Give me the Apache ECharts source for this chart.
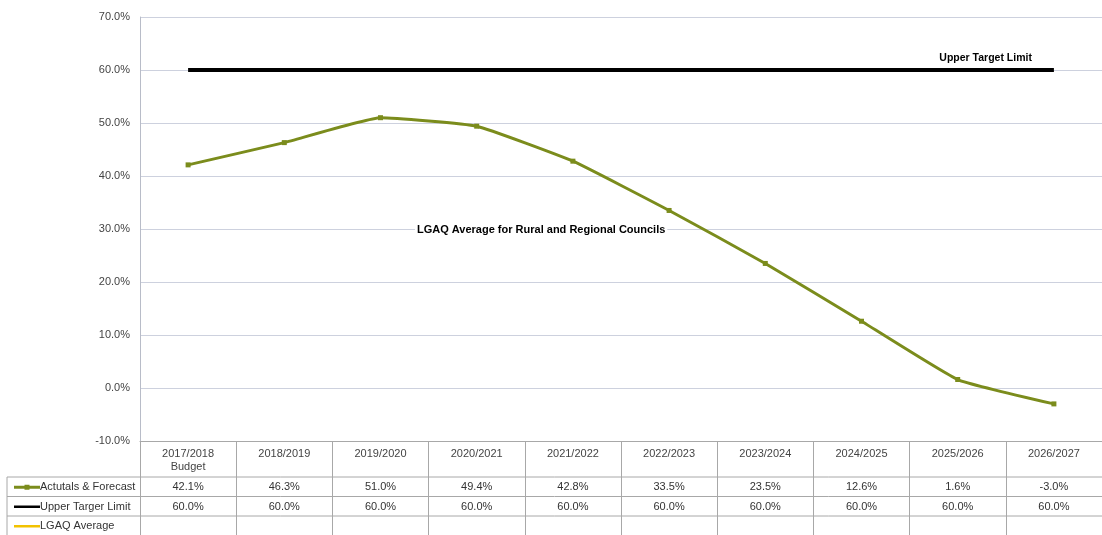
<!DOCTYPE html>
<html><head><meta charset="utf-8">
<script src="https://cdn.jsdelivr.net/npm/echarts@6/dist/echarts.min.js"></script>
<style>html,body{margin:0;padding:0;background:#fff}#c{width:1102px;height:535px}</style>
</head><body><div id="c"></div>
<script>
const categories = ['2017/2018\nBudget','2018/2019','2019/2020','2020/2021','2021/2022','2022/2023','2023/2024','2024/2025','2025/2026','2026/2027'];
const actuals = [42.1, 46.3, 51.0, 49.4, 42.8, 33.5, 23.5, 12.6, 1.6, -3.0];
const upperLimit = [60, 60, 60, 60, 60, 60, 60, 60, 60, 60];
const lgaqAverage = [null, null, null, null, null, null, null, null, null, null];
const seriesNames = ['Actutals & Forecast', 'Upper Targer Limit', 'LGAQ Average'];
const yTicks = {min: -10, max: 70, interval: 10};

const FONT = 'Liberation Sans, Arial, sans-serif';
const OLIVE = '#7b8c1c';
const chart = echarts.init(document.getElementById('c'));
const fmt = v => (v == null ? '' : v.toFixed(1) + '%');

chart.setOption({
  animation: false,
  textStyle: {fontFamily: FONT},
  grid: {left: 140, right: 0, top: 17, bottom: 94, containLabel: false},
  xAxis: {
    type: 'category', data: categories, boundaryGap: true,
    axisLine: {onZero: false, lineStyle: {color: '#a8a8a8', width: 1}},
    axisTick: {show: true, interval: 0, length: 94, lineStyle: {color: '#a8a8a8'}},
    axisLabel: {interval: 0, margin: 6, color: '#444', fontSize: 11, lineHeight: 13, fontFamily: FONT}
  },
  yAxis: {
    type: 'value', min: yTicks.min, max: yTicks.max, interval: yTicks.interval,
    axisLine: {show: true, lineStyle: {color: '#b8bcc8'}},
    axisTick: {show: false},
    axisLabel: {formatter: v => v.toFixed(1) + '%', color: '#444', fontSize: 11, margin: 10, fontFamily: FONT},
    splitLine: {lineStyle: {color: '#cdd1de', width: 1}}
  },
  series: [
    {name: seriesNames[0], type: 'line', data: actuals, symbol: 'rect', symbolSize: 5, smooth: 0.12,
     lineStyle: {color: OLIVE, width: 3}, itemStyle: {color: OLIVE}, z: 3},
    {name: seriesNames[1], type: 'line', data: upperLimit, symbol: 'none',
     lineStyle: {color: '#000', width: 4}, z: 2},
    {name: seriesNames[2], type: 'line', data: lgaqAverage, symbol: 'none',
     lineStyle: {color: '#f2c200', width: 3}}
  ]
});

// Data table below the plot, positioned through the category axis
const rows = [actuals, upperLimit, lgaqAverage];
const rowTop = 477, rowH = 19.5;
const colors = [OLIVE, '#000', '#f2c200'];
const g = [];
for (let r = 0; r < 3; r++) {
  const yTop = rowTop + r * rowH;
  g.push({type: 'line', shape: {x1: 7, y1: yTop, x2: 1102, y2: yTop}, style: {stroke: '#a8a8a8', lineWidth: 1}});
  const yc = yTop + rowH / 2 + 0.5;
  g.push({type: 'line', shape: {x1: 14, y1: yc, x2: 40, y2: yc}, style: {stroke: colors[r], lineWidth: r === 0 ? 3 : 2.5}});
  if (r === 0) g.push({type: 'rect', shape: {x: 24.5, y: yc - 2.5, width: 5, height: 5}, style: {fill: OLIVE}});
  g.push({type: 'text', x: 40, y: yc, style: {text: seriesNames[r], fill: '#333', font: '11px ' + FONT, textVerticalAlign: 'middle', textAlign: 'left'}});
  rows[r].forEach((v, i) => {
    const x = chart.convertToPixel({xAxisIndex: 0}, i);
    g.push({type: 'text', x: x, y: yc, style: {text: fmt(v), fill: '#333', font: '11px ' + FONT, textAlign: 'center', textVerticalAlign: 'middle'}});
  });
}
g.push({type: 'line', shape: {x1: 7, y1: rowTop, x2: 7, y2: 535}, style: {stroke: '#a8a8a8', lineWidth: 1}});

// Annotations
const pUp = chart.convertToPixel({xAxisIndex: 0, yAxisIndex: 0}, [9, upperLimit[9]]);
g.push({type: 'text', x: pUp[0] - 22, y: pUp[1] - 12, style: {text: 'Upper Target Limit', fill: '#000', font: 'bold 10.5px ' + FONT, textAlign: 'right', textVerticalAlign: 'middle'}});
const p3 = chart.convertToPixel({xAxisIndex: 0, yAxisIndex: 0}, [3, 30]);
const p4 = chart.convertToPixel({xAxisIndex: 0, yAxisIndex: 0}, [4, 30]);
const lx = p3[0] + (p4[0] - p3[0]) * 0.67;
g.push({type: 'text', x: lx, y: p3[1] + 1, style: {text: 'LGAQ Average for Rural and Regional Councils', fill: '#000', font: 'bold 11px ' + FONT, textAlign: 'center', textVerticalAlign: 'middle', backgroundColor: '#fff', padding: [0, 2]}});

chart.setOption({graphic: g});
</script></body></html>
